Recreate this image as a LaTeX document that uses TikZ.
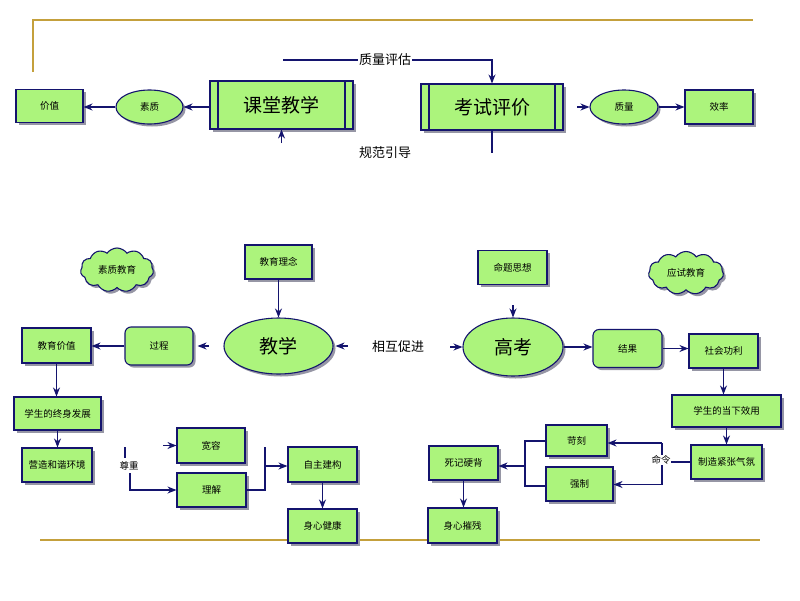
\documentclass[tikz,border=0pt]{standalone}
\usepackage{fontspec}
\setmainfont{Noto Sans CJK SC}
\usetikzlibrary{shapes.geometric,shapes.symbols,shadows,arrows.meta}
\definecolor{gfill}{RGB}{172,244,124}
\definecolor{navy}{RGB}{20,20,110}
\definecolor{shade}{RGB}{150,150,165}
\definecolor{gold}{RGB}{196,160,60}
\begin{document}
\begin{tikzpicture}[x=1pt,y=-1pt,
  base/.style={draw=navy, line width=1.1pt, fill=gfill, inner sep=0pt,
    drop shadow={shadow xshift=2.5pt, shadow yshift=-2.5pt, fill=shade, opacity=1},
    font=\fontsize{9.5pt}{11pt}\selectfont},
  box/.style={base, rectangle, minimum width=69pt, minimum height=34pt},
  rbox/.style={box, rounded corners=6pt, minimum height=38pt},
  ell/.style={base, ellipse, minimum width=67pt, minimum height=34pt},
  bigell/.style={base, ellipse, font=\fontsize{19pt}{22pt}\selectfont},
  cloudn/.style={base, cloud, cloud puffs=11, cloud puff arc=110, aspect=1.6},
  bigbox/.style={base, rectangle, minimum width=143pt, minimum height=48pt,
    font=\fontsize{19pt}{22pt}\selectfont,
    path picture={\draw[navy, line width=1.1pt]
      ([xshift=8pt]path picture bounding box.north west) -- ([xshift=8pt]path picture bounding box.south west)
      ([xshift=-8pt]path picture bounding box.north east) -- ([xshift=-8pt]path picture bounding box.south east);}},
  lbl/.style={fill=white, inner sep=1pt, font=\fontsize{13pt}{15pt}\selectfont},
  slbl/.style={fill=white, inner sep=0.5pt, font=\fontsize{9.5pt}{11pt}\selectfont},
  conn/.style={draw=navy, line width=1.1pt},
  arr/.style={conn, -{Stealth[length=9pt,width=7pt]}},
  goldline/.style={draw=gold, line width=2pt}
]
\useasboundingbox (0,0) rectangle (800,600);

% frame lines
\coordinate (g1) at (33,72);
\coordinate (g2) at (33,20);
\coordinate (g3) at (753,20);
\coordinate (g4) at (40,540);
\coordinate (g5) at (760,540);
\draw[goldline] (g1) -- (g2) -- (g3);
\draw[goldline] (g4) -- (g5);

% ---------- top ----------
\node[box, minimum width=67pt, minimum height=33pt] (jiazhi) at (49.5,106) {价值};
\node[ell] (suzhi) at (149.5,107) {素质};
\node[bigbox] (ketang) at (281.5,105) {课堂教学};
\node[bigbox, minimum width=142pt, minimum height=46pt] (kaoshi) at (492,107) {考试评价};
\node[ell, minimum width=68pt] (zhiliang) at (624,107) {质量};
\node[box, minimum width=68pt] (xiaolv) at (719,107) {效率};

\node[lbl] (zlpg) at (385,60) {质量评估};
\node[lbl] (gfyd) at (385,153) {规范引导};

\coordinate (zlpgL) at (283,60);
\coordinate (gfydR) at (492,153);
\coordinate (ketangB) at (281.5,143);
\coordinate (zlS) at (577,107);

\draw[arr] (ketang.west |- suzhi.east) -- (suzhi.east);
\draw[arr] (suzhi.west) -- (jiazhi.east |- suzhi.west);
\draw[conn] (zlpgL) -- (zlpg.west);
\draw[arr] (zlpg.east) -| (kaoshi.north);
\draw[conn] (kaoshi.south) -- (gfydR);
\draw[arr] (ketangB) -- (ketang.south);
\draw[arr] (zlS) -- (zhiliang.west);
\draw[arr] (zhiliang.east) -- (xiaolv.west);

% ---------- middle ----------
\node[cloudn, minimum width=73pt, minimum height=44pt] (szjy) at (117,270) {素质教育};
\node[box, minimum width=67pt] (jyln) at (278.5,262) {教育理念};
\node[bigell, minimum width=109pt, minimum height=56pt] (jiaoxue) at (278.5,346) {教学};
\node[lbl] (xhcj) at (398,347) {相互促进};
\node[bigell, minimum width=100pt, minimum height=58pt] (gaokao) at (513,347) {高考};
\node[box] (mtsx) at (512.5,267.5) {命题思想};
\node[cloudn, minimum width=75pt, minimum height=43pt] (ysjy) at (686,273) {应试教育};
\node[rbox] (jieguo) at (627.5,348.5) {结果};
\node[box] (shgl) at (723.5,351) {社会功利};
\node[box, minimum height=35pt] (jyjz) at (56.5,345.5) {教育价值};
\node[rbox, minimum width=68pt] (guocheng) at (159,346) {过程};

\draw[arr] (jyln.south) -- (jiaoxue.north);
\draw[arr] ([xshift=14pt]jiaoxue.east) -- ([xshift=2pt]jiaoxue.east);
\draw[arr] ([xshift=-12pt]gaokao.west) -- (gaokao.west);
\draw[arr] ([yshift=12pt]gaokao.north) -- (gaokao.north);
\draw[arr] (gaokao.east) -- (jieguo.west |- gaokao.east);
\draw[arr] (jieguo.east) -- (shgl.west |- jieguo.east);
\draw[arr] ([xshift=15pt]guocheng.east) -- ([xshift=4pt]guocheng.east);
\draw[arr] (guocheng.west) -- (jyjz.east |- guocheng.west);

% ---------- lower left ----------
\node[box, minimum width=87pt, minimum height=33pt] (zsfz) at (57.5,413.5) {学生的终身发展};
\node[box, minimum width=70pt] (yzhx) at (57,465) {营造和谐环境};
\node[box, minimum width=68pt, minimum height=35pt] (kuanrong) at (211,445.5) {宽容};
\node[box] (lijie) at (211.5,490) {理解};
\node[box, minimum height=35pt] (zzjg) at (322.5,464.5) {自主建构};
\node[box] (sxjk) at (322.5,526) {身心健康};
\node[slbl] (zunzhong) at (129,466) {尊重};

\coordinate (zzT) at (125,447);
\coordinate (zzT2) at (125,458);
\coordinate (zzB) at (130,473);
\coordinate (ljR) at (265,490);
\coordinate (ljT) at (265,447);
\coordinate (ljM) at (265,466);

\draw[arr] (jyjz.south) -- (jyjz.south |- zsfz.north);
\draw[arr] (zsfz.south) -- (zsfz.south |- yzhx.north);
\draw[conn] (zzT) -- (zzT2);
\draw[arr] (zzB) |- (lijie.west);
\draw[arr] ([xshift=-13pt]kuanrong.west) -- (kuanrong.west);
\draw[conn] (lijie.east) -- (ljR) -- (ljT);
\draw[arr] (ljM) -- (zzjg.west |- ljM);
\draw[arr] (zzjg.south) -- (sxjk.north);

% ---------- lower right ----------
\node[box, minimum width=109pt, minimum height=32pt] (dxxy) at (726.5,411) {学生的当下效用};
\node[box, minimum width=71pt] (zzjz) at (726.5,462) {制造紧张气氛};
\node[box, minimum width=61pt, minimum height=31pt] (keke) at (576.5,440.5) {苛刻};
\node[box, minimum width=67pt] (qiangzhi) at (579.5,484) {强制};
\node[box] (sjyb) at (463.5,463) {死记硬背};
\node[box, minimum height=35pt] (sxcc) at (462.5,525.5) {身心摧残};
\node[slbl] (mingling) at (661,460) {命令};

\coordinate (mlT) at (662,443);
\coordinate (mlB) at (662,484.5);
\coordinate (mlT2) at (662,455);
\coordinate (mlB2) at (662,465);
\coordinate (brT) at (525,441);
\coordinate (brB) at (525,486);
\coordinate (brM) at (525,466);

\draw[arr] (shgl.south) -- (shgl.south |- dxxy.north);
\draw[arr] (dxxy.south) -- (zzjz.north);
\draw[conn] (zzjz.west) -- (mingling.east |- zzjz.west);
\draw[conn] (mlT2) -- (mlT);
\draw[conn] (mlB2) -- (mlB);
\draw[arr] (mlT) -- (keke.east |- mlT);
\draw[arr] (mlB) -- (qiangzhi.east |- mlB);
\draw[conn] (keke.west |- brT) -- (brT) -- (brB) -- (qiangzhi.west |- brB);
\draw[arr] (brM) -- (sjyb.east |- brM);
\draw[arr] (sjyb.south) -- (sjyb.south |- sxcc.north);
\end{tikzpicture}
\end{document}
